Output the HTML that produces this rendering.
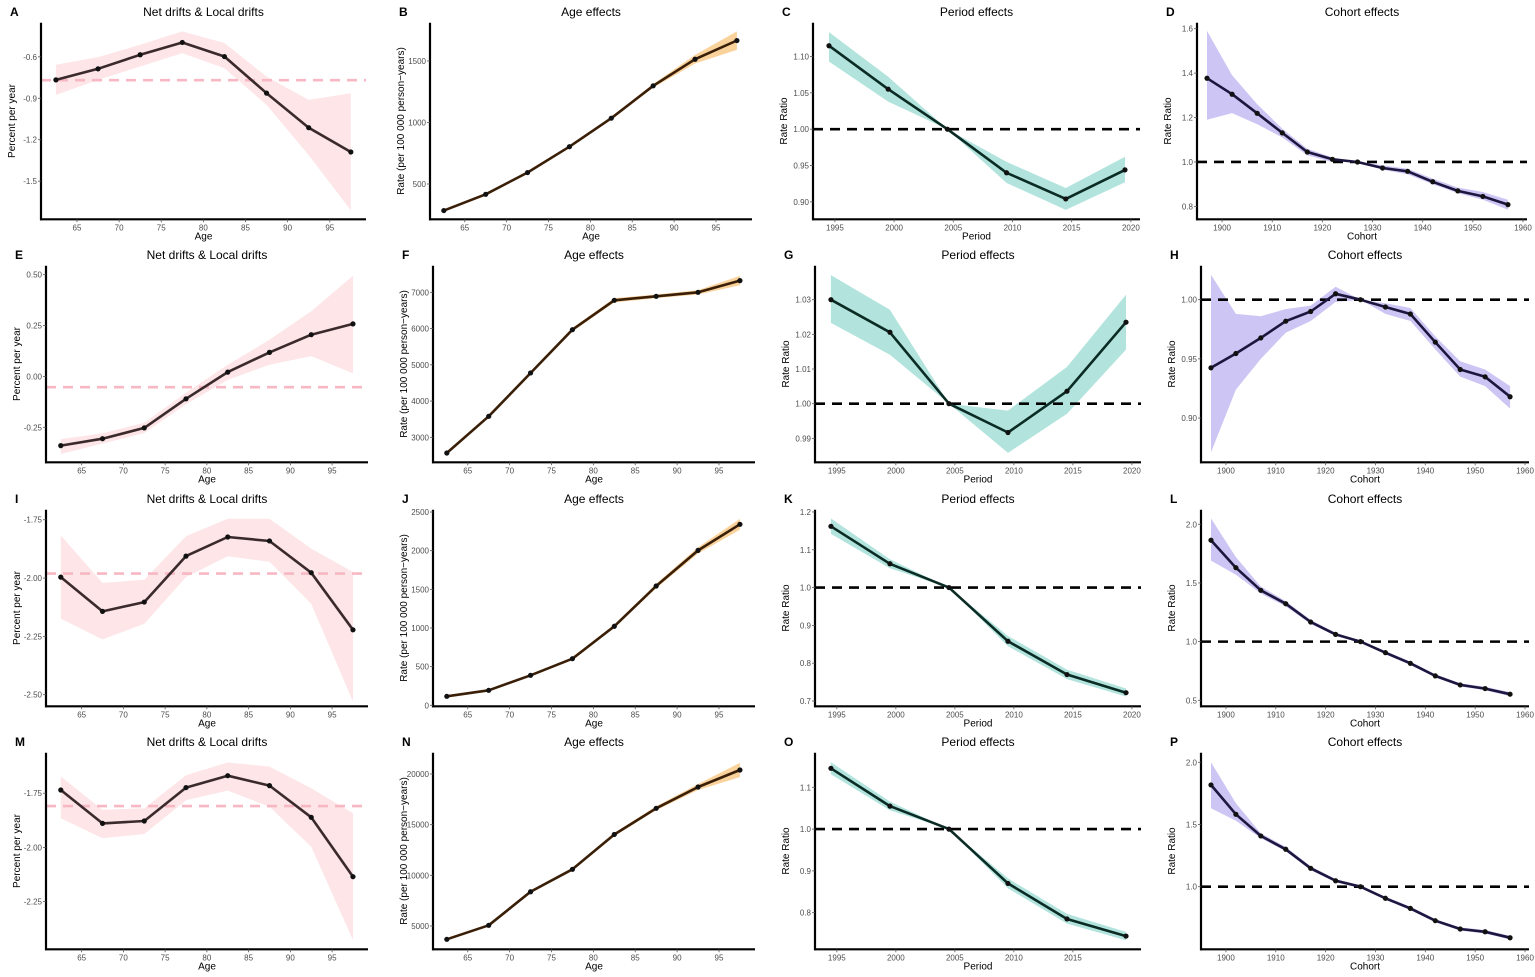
<!DOCTYPE html>
<html><head><meta charset="utf-8"><style>
html,body{margin:0;padding:0;background:#fff;}
svg{display:block;font-family:"Liberation Sans",sans-serif;}
</style></head><body>
<svg id="chart" width="1535" height="977" viewBox="0 0 1535 977" xmlns="http://www.w3.org/2000/svg"></svg>
<script>
const ageGroups=[62.5,67.5,72.5,77.5,82.5,87.5,92.5,97.5];
const periodGroups=[1994.5,1999.5,2004.5,2009.5,2014.5,2019.5];
const cohortGroups=[1897,1902,1907,1912,1917,1922,1927,1932,1937,1942,1947,1952,1957];
const ageTicks=[65,70,75,80,85,90,95];
const periodTicks=[1995,2000,2005,2010,2015,2020];
const periodTicksShort=[1995,2000,2005,2010,2015];
const cohortTicks=[1900,1910,1920,1930,1940,1950,1960];

// Row 1
const aValues=[-0.767,-0.687,-0.585,-0.496,-0.598,-0.863,-1.113,-1.289];
const aUpper=[-0.658,-0.602,-0.513,-0.416,-0.5,-0.743,-0.912,-0.863];
const aLower=[-0.876,-0.767,-0.670,-0.573,-0.682,-0.948,-1.311,-1.71];
const aNetDrift=-0.769;
const bValues=[284,416,593,803,1035,1298,1514,1666];
const bUpper=[289,422,601,813,1047,1313,1549,1740];
const bLower=[279,410,585,793,1023,1283,1479,1590];
const cValues=[1.1148,1.055,1.0,0.940,0.904,0.944];
const cUpper=[1.1335,1.072,1.0,0.955,0.919,0.962];
const cLower=[1.093,1.038,1.0,0.926,0.889,0.927];
const dValues=[1.377,1.305,1.219,1.131,1.045,1.012,1.0,0.973,0.958,0.911,0.870,0.845,0.808];
const dUpper=[1.59,1.39,1.26,1.15,1.06,1.02,1.0,0.985,0.97,0.925,0.885,0.865,0.83];
const dLower=[1.19,1.22,1.17,1.11,1.03,1.0,1.0,0.965,0.945,0.9,0.86,0.83,0.785];
// Row 2
const eValues=[-0.340,-0.306,-0.253,-0.110,0.021,0.118,0.205,0.258];
const eUpper=[-0.308,-0.28,-0.228,-0.08,0.057,0.180,0.32,0.495];
const eLower=[-0.381,-0.33,-0.278,-0.137,-0.017,0.057,0.10,0.015];
const eNetDrift=-0.053;
const fValues=[2567,3579,4775,5968,6779,6890,7000,7322];
const fUpper=[2587,3609,4815,6018,6839,6940,7060,7452];
const fLower=[2547,3549,4735,5918,6719,6840,6940,7192];
const gValues=[1.030,1.0206,1.0,0.9917,1.0036,1.0235];
const gUpper=[1.0371,1.0271,1.0,0.998,1.0106,1.0314];
const gLower=[1.0233,1.0141,1.0,0.9858,0.9971,1.0156];
const hValues=[0.9424,0.9545,0.9677,0.9818,0.990,1.005,1.0,0.9938,0.9879,0.9641,0.941,0.9348,0.918];
const hUpper=[1.021,0.988,0.986,0.992,0.995,1.011,1.0,0.997,0.993,0.969,0.948,0.941,0.927];
const hLower=[0.8711,0.924,0.95,0.972,0.982,0.998,1.0,0.988,0.982,0.958,0.935,0.927,0.908];
// Row 3
const iValues=[-1.996,-2.143,-2.103,-1.906,-1.824,-1.841,-1.977,-2.222];
const iUpper=[-1.817,-2.021,-2.007,-1.821,-1.746,-1.746,-1.874,-1.974];
const iLower=[-2.174,-2.263,-2.196,-1.996,-1.907,-1.93,-2.11,-2.53];
const iNetDrift=-1.981;
const jValues=[116,194,388,603,1022,1543,2004,2341];
const jUpper=[121,202,398,618,1042,1573,2044,2411];
const jLower=[111,186,378,588,1002,1513,1964,2271];
const kValues=[1.162,1.063,1.0,0.858,0.770,0.722];
const kUpper=[1.183,1.075,1.0,0.872,0.783,0.733];
const kLower=[1.142,1.051,1.0,0.845,0.758,0.712];
const lValues=[1.864,1.63,1.437,1.323,1.167,1.062,1.0,0.906,0.815,0.708,0.631,0.600,0.552];
const lUpper=[2.05,1.72,1.47,1.345,1.185,1.075,1.0,0.92,0.83,0.722,0.645,0.615,0.57];
const lLower=[1.69,1.57,1.41,1.30,1.15,1.05,1.0,0.893,0.8,0.695,0.618,0.585,0.535];
// Row 4
const mValues=[-1.735,-1.889,-1.878,-1.724,-1.669,-1.715,-1.861,-2.135];
const mUpper=[-1.673,-1.827,-1.819,-1.667,-1.608,-1.627,-1.727,-1.842];
const mLower=[-1.865,-1.958,-1.938,-1.782,-1.738,-1.812,-1.997,-2.427];
const mNetDrift=-1.809;
const nValues=[3687,5066,8382,10592,14033,16613,18717,20395];
const nUpper=[3747,5146,8482,10712,14183,16813,19017,21095];
const nLower=[3627,4986,8282,10472,13883,16413,18417,19695];
const oValues=[1.1455,1.055,1.0,0.870,0.785,0.744];
const oUpper=[1.16,1.066,1.0,0.882,0.797,0.754];
const oLower=[1.131,1.045,1.0,0.858,0.774,0.734];
const pValues=[1.818,1.582,1.408,1.301,1.148,1.048,1.0,0.907,0.826,0.727,0.66,0.638,0.590];
const pUpper=[2.0,1.67,1.43,1.32,1.165,1.06,1.0,0.92,0.84,0.74,0.673,0.652,0.605];
const pLower=[1.63,1.53,1.39,1.285,1.133,1.037,1.0,0.895,0.812,0.714,0.647,0.624,0.575];

const driftTicks1=[-1.5,-1.2,-0.9,-0.6], driftLabels1=["-1.5","-1.2","-0.9","-0.6"];
const driftTicks2=[-0.25,0,0.25,0.5], driftLabels2=["-0.25","0.00","0.25","0.50"];
const driftTicks3=[-2.5,-2.25,-2.0,-1.75], driftLabels3=["-2.50","-2.25","-2.00","-1.75"];
const driftTicks4=[-2.25,-2.0,-1.75], driftLabels4=["-2.25","-2.00","-1.75"];
const ageTicksB=[500,1000,1500], ageTicksF=[3000,4000,5000,6000,7000], ageTicksJ=[0,500,1000,1500,2000,2500], ageTicksN=[5000,10000,15000,20000];
const perTicksC=[0.90,0.95,1.00,1.05,1.10], perLabelsC=["0.90","0.95","1.00","1.05","1.10"];
const perTicksG=[0.99,1.00,1.01,1.02,1.03], perLabelsG=["0.99","1.00","1.01","1.02","1.03"];
const perTicksK=[0.7,0.8,0.9,1.0,1.1,1.2], perLabelsK=["0.7","0.8","0.9","1.0","1.1","1.2"];
const perTicksO=[0.8,0.9,1.0,1.1], perLabelsO=["0.8","0.9","1.0","1.1"];
const cohTicksD=[0.8,1.0,1.2,1.4,1.6], cohLabelsD=["0.8","1.0","1.2","1.4","1.6"];
const cohTicksH=[0.90,0.95,1.00], cohLabelsH=["0.90","0.95","1.00"];
const cohTicksL=[0.5,1.0,1.5,2.0], cohLabelsL=["0.5","1.0","1.5","2.0"];
const cohTicksP=[1.0,1.5,2.0], cohLabelsP=["1.0","1.5","2.0"];

const NS="http://www.w3.org/2000/svg";
const svg=document.getElementById('chart');
function mk(tag,attrs,parent){const e=document.createElementNS(NS,tag);for(const k in attrs)e.setAttribute(k,attrs[k]);(parent||svg).appendChild(e);return e;}

const rowOff=[0,243,487,730];
const lefts=[[41,430,813,1197],[46,433,815,1201],[46,433,815,1201],[46,433,815,1201]];
const rights=[[366,752,1140,1527],[368,755,1141,1529],[368,755,1141,1529],[368,755,1141,1529]];
const types={
 drift:{title:"Net drifts & Local drifts",xlab:"Age",ylab:"Percent per year",xd:[60.73,99.3],xs:ageGroups,xt:ageTicks,line:"#3b2a2c",band:"#fde5e8"},
 age:{title:"Age effects",xlab:"Age",ylab:"Rate (per 100 000 person\u2212years)",xd:[60.85,99.3],xs:ageGroups,xt:ageTicks,line:"#3a1f08",band:"#f9d29c"},
 period:{title:"Period effects",xlab:"Period",ylab:"Rate Ratio",xd:[1993.15,2020.77],xs:periodGroups,xt:periodTicks,line:"#0b2b25",band:"#b2e4dd"},
 cohort:{title:"Cohort effects",xlab:"Cohort",ylab:"Rate Ratio",xd:[1895.0,1960.8],xs:cohortGroups,xt:cohortTicks,line:"#1d173f",band:"#cdc6f4"}
};
const panels=[
 {id:"A",r:0,c:0,t:"drift",yd:[-1.776,-0.353],yt:driftTicks1,yl:driftLabels1,v:aValues,lo:aLower,up:aUpper,ref:aNetDrift},
 {id:"B",r:0,c:1,t:"age",yd:[213,1811],yt:ageTicksB,yl:ageTicksB.map(String),v:bValues,lo:bLower,up:bUpper},
 {id:"C",r:0,c:2,t:"period",yd:[0.876,1.1465],yt:perTicksC,yl:perLabelsC,v:cValues,lo:cLower,up:cUpper,ref:1},
 {id:"D",r:0,c:3,t:"cohort",yd:[0.742,1.627],yt:cohTicksD,yl:cohLabelsD,v:dValues,lo:dLower,up:dUpper,ref:1},
 {id:"E",r:1,c:0,t:"drift",yd:[-0.422,0.544],yt:driftTicks2,yl:driftLabels2,v:eValues,lo:eLower,up:eUpper,ref:eNetDrift},
 {id:"F",r:1,c:1,t:"age",yd:[2310,7734],yt:ageTicksF,yl:ageTicksF.map(String),v:fValues,lo:fLower,up:fUpper},
 {id:"G",r:1,c:2,t:"period",yd:[0.9831,1.0398],yt:perTicksG,yl:perLabelsG,v:gValues,lo:gLower,up:gUpper,ref:1},
 {id:"H",r:1,c:3,t:"cohort",yd:[0.8626,1.0287],yt:cohTicksH,yl:cohLabelsH,v:hValues,lo:hLower,up:hUpper,ref:1},
 {id:"I",r:2,c:0,t:"drift",yd:[-2.55,-1.707],yt:driftTicks3,yl:driftLabels3,v:iValues,lo:iLower,up:iUpper,ref:iNetDrift},
 {id:"J",r:2,c:1,t:"age",yd:[-13,2530],yt:ageTicksJ,yl:ageTicksJ.map(String),v:jValues,lo:jLower,up:jUpper},
 {id:"K",r:2,c:2,t:"period",yd:[0.686,1.206],yt:perTicksK,yl:perLabelsK,v:kValues,lo:kLower,up:kUpper,ref:1},
 {id:"L",r:2,c:3,t:"cohort",yd:[0.449,2.124],yt:cohTicksL,yl:cohLabelsL,v:lValues,lo:lLower,up:lUpper,ref:1},
 {id:"M",r:3,c:0,t:"drift",yd:[-2.47,-1.563],yt:driftTicks4,yl:driftLabels4,v:mValues,lo:mLower,up:mUpper,ref:mNetDrift},
 {id:"N",r:3,c:1,t:"age",yd:[2700,22102],yt:ageTicksN,yl:ageTicksN.map(String),v:nValues,lo:nLower,up:nUpper},
 {id:"O",r:3,c:2,t:"period",yd:[0.7124,1.1828],yt:perTicksO,yl:perLabelsO,v:oValues,lo:oLower,up:oUpper,ref:1,xt:periodTicksShort},
 {id:"P",r:3,c:3,t:"cohort",yd:[0.497,2.077],yt:cohTicksP,yl:cohLabelsP,v:pValues,lo:pLower,up:pUpper,ref:1}
];

panels.forEach(p=>{
 const T=types[p.t];
 const off=rowOff[p.r];
 const L=lefts[p.r][p.c], R=rights[p.r][p.c], top=off+22.7, bot=off+219.3;
 const xS=v=>L+(v-T.xd[0])/(T.xd[1]-T.xd[0])*(R-L);
 const yS=v=>bot-(v-p.yd[0])/(p.yd[1]-p.yd[0])*(bot-top);
 const g=mk('g',{});
 
 
 const pl=mk('text',{x:L-31,y:off+16,'font-size':12,'font-weight':'bold',fill:'#000'},g);
 pl.textContent=p.id;
 
 
 const tt=mk('text',{x:(L+R)/2,y:off+16,'font-size':12,'text-anchor':'middle',fill:'#000'},g);
 tt.textContent=T.title;
 
 
 const xs=T.xs;
 let d='';
 xs.forEach((x,i)=>{d+=(i?'L':'M')+xS(x).toFixed(1)+','+yS(p.up[i]).toFixed(1);});
 for(let i=xs.length-1;i>=0;i--){d+='L'+xS(xs[i]).toFixed(1)+','+yS(p.lo[i]).toFixed(1);}
 const band=mk('path',{d:d+'Z',fill:T.band,stroke:'none'},g);
 
 
 if(p.ref!==undefined){
  const isDrift=p.t==='drift';
  const rl=mk('line',{x1:L,x2:R,y1:yS(p.ref),y2:yS(p.ref),stroke:isDrift?'#f7b8c4':'#000','stroke-width':2.6,'stroke-dasharray':'10,7'},g);
  
  
 }
 const pts=xs.map((x,i)=>xS(x).toFixed(1)+','+yS(p.v[i]).toFixed(1)).join(' ');
 const ln=mk('polyline',{points:pts,fill:'none',stroke:T.line,'stroke-width':2.6,'stroke-linejoin':'round'},g);
 
 
 xs.forEach((x,i)=>{
  const c=mk('circle',{cx:xS(x),cy:yS(p.v[i]),r:2.6,fill:'#111'},g);
  
  
 });
 const ya=mk('line',{x1:L,x2:L,y1:top,y2:bot+1,stroke:'#000','stroke-width':2.2},g);
 
 
 const xa=mk('line',{x1:L-1,x2:R,y1:bot,y2:bot,stroke:'#000','stroke-width':2.2},g);
 
 
 p.yt.forEach((v,i)=>{
  const y=yS(v);
  mk('line',{x1:L-3,x2:L,y1:y,y2:y,stroke:'#555','stroke-width':0.8},g);
  const t=mk('text',{x:L-4,y:y+3,'font-size':8,'text-anchor':'end',fill:'#4d4d4d'},g);
  t.textContent=p.yl[i];
  
  
 });
 (p.xt||T.xt).forEach(v=>{
  const x=xS(v);
  mk('line',{x1:x,x2:x,y1:bot,y2:bot+3,stroke:'#555','stroke-width':0.8},g);
  const t=mk('text',{x:x,y:bot+11,'font-size':8,'text-anchor':'middle',fill:'#4d4d4d'},g);
  t.textContent=String(v);
  
  
 });
 const xl=mk('text',{x:(L+R)/2,y:bot+20,'font-size':10,'text-anchor':'middle',fill:'#000'},g);
 xl.textContent=T.xlab;
 
 
 const cy=(top+bot)/2, cx=L-26;
 const yl=mk('text',{x:cx,y:cy,'font-size':10,'text-anchor':'middle',fill:'#000',transform:'rotate(-90 '+cx+' '+cy+')'},g);
 yl.textContent=T.ylab;
 
 
});
</script>
</body></html>
